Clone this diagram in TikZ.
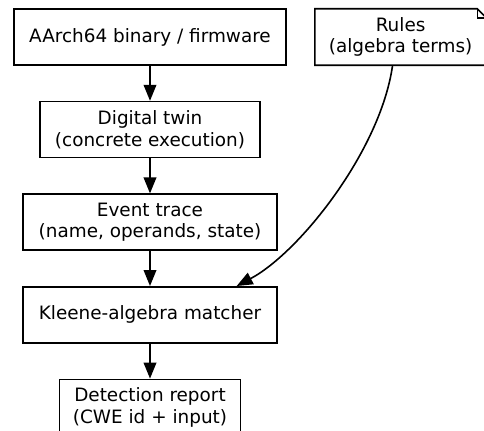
\documentclass[tikz,border=0pt]{standalone}
\usepackage{fontspec}
\setmainfont{DejaVu Sans}
\usetikzlibrary{arrows.meta,positioning}
\tikzset{>=Stealth}

\begin{document}
\begin{tikzpicture}[
    node distance=26.25pt and 21pt,
    box/.style={rectangle, draw, line width=1.2pt, minimum height=42pt,
        inner xsep=2pt, align=center, font=\fontsize{13.8}{16}\selectfont},
    notebox/.style={rectangle, minimum height=42pt, minimum width=128.25pt,
        align=center, font=\fontsize{13.8}{16}\selectfont},
    arrow/.style={-{Triangle[length=12pt, width=9.5pt]}, line width=1.2pt}
]
    \useasboundingbox (0,0) rectangle (363pt,-322.5pt);

    \node[box, minimum width=204pt] (binary) at (112.5pt,-27.75pt) {AArch64 binary / firmware};
    \node[box, minimum width=165pt, below=of binary] (twin) {Digital twin\\(concrete execution)};
    \node[box, minimum width=190.5pt, below=of twin] (trace) {Event trace\\(name, operands, state)};
    \node[box, minimum width=190.5pt, below=of trace] (matcher) {Kleene-algebra matcher};
    \node[box, minimum width=135.75pt, below=of matcher] (report) {Detection report\\(CWE id + input)};
    \node[notebox, right=of binary] (rules) {Rules\\(algebra terms)};

    % note outline with folded corner
    \draw[line width=1.2pt] (rules.south west) -- (rules.north west)
        -- ([xshift=-6.75pt]rules.north east) -- ([yshift=-6.75pt]rules.north east)
        -- (rules.south east) -- cycle;
    \draw[line width=1.2pt] ([xshift=-6.75pt]rules.north east)
        -- ([xshift=-6.75pt, yshift=-6.75pt]rules.north east)
        -- ([yshift=-6.75pt]rules.north east);

    \draw[arrow] (binary) -- (twin);
    \draw[arrow] (twin) -- (trace);
    \draw[arrow] (trace) -- (matcher);
    \draw[arrow] (matcher) -- (report);
    \draw[arrow] ([xshift=-6pt]rules.south) .. controls +(-9pt,-64pt) and +(47pt,25pt)
        .. ([xshift=65pt]matcher.north);
\end{tikzpicture}
\end{document}
